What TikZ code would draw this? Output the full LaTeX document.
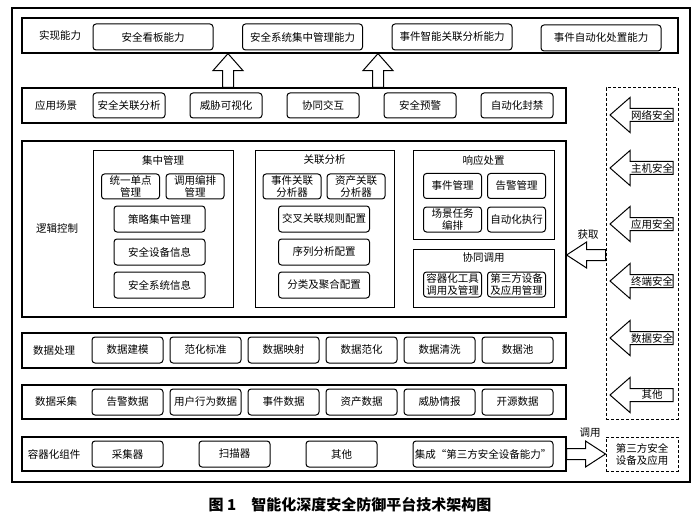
\documentclass[tikz,border=0pt]{standalone}
\usepackage{fontspec}
\setmainfont{Noto Sans CJK SC}
\usetikzlibrary{calc}

% left-pointing block arrow round a source label
\newcommand{\srcarrow}[1]{%
  \draw[blockarrow] ($(#1)+(21,-6.5)$) -- ($(#1)+(-22,-6.5)$) -- ++(0,-11)
    -- ($(#1)+(-42,0)$) -- ($(#1)+(-22,17.5)$) -- ++(0,-11)
    -- ($(#1)+(21,6.5)$) -- cycle;}

\begin{document}
\begin{tikzpicture}[x=1pt,y=-1pt,
    font=\fontsize{10.5}{12}\selectfont,
    blockarrow/.style={draw,line width=1pt,line join=miter},
    layer/.style={draw,line width=1.2pt,minimum height=35,inner sep=0},
    item/.style={draw,line width=1pt,rounded corners=3,minimum height=26,inner sep=1,align=center},
    group/.style={draw,line width=0.9pt,inner sep=0},
    dashbox/.style={draw,line width=1pt,dash pattern=on 3pt off 2pt,inner sep=0,align=center}]
  \useasboundingbox (0,0) rectangle (700,521);

  % frame and layers
  \node[draw,line width=1.5pt,minimum width=678,minimum height=474,inner sep=0] (frame) at (351,245) {};
  \node[layer,minimum width=656] (ability) at (350,35.5) {};
  \node[layer,minimum width=544] (scene) at (294,105.5) {};
  \node[layer,minimum width=544,minimum height=176] (logic) at (294,229) {};
  \node[layer,minimum width=544] (process) at (294,350.5) {};
  \node[layer,minimum width=544,minimum height=34] (collect) at (294,402) {};
  \node[layer,minimum width=544,minimum height=34] (container) at (294,454) {};
  \node[dashbox,minimum width=72,minimum height=331] (src) at (642,253.5) {};
  \node[dashbox,minimum width=72,minimum height=34] (third) at (642,454) {第三方安全\\设备及应用};

  % layer titles
  \node (abilityname) at (60,35.5) {实现能力};
  \node (scenename) at (56,105.5) {应用场景};
  \node (logicname) at (57,229) {逻辑控制};
  \node (processname) at (54,350.5) {数据处理};
  \node (collectname) at (56,402) {数据采集};
  \node (containername) at (54,454) {容器化组件};

  \begin{scope}[every node/.style={item,minimum width=120}]
    \node (a1) at (153,37) {安全看板能力};
    \node (a2) at (302.5,37) {安全系统集中管理能力};
    \node (a3) at (452,37) {事件智能关联分析能力};
    \node (a4) at (601,38) {事件自动化处置能力};
  \end{scope}

  \begin{scope}[every node/.style={item,minimum width=72,minimum height=25}]
    \node (b1) at (129,105.5) {安全关联分析};
    \node (b2) at (226,105.5) {威胁可视化};
    \node (b3) at (323,105.5) {协同交互};
    \node (b4) at (420,105.5) {安全预警};
    \node (b5) at (517,105.5) {自动化封禁};
  \end{scope}

  % logic control groups
  \node[group,minimum width=140,minimum height=157] (central) at (163,228.5) {};
  \node[group,minimum width=139,minimum height=157] (assoc) at (324.5,228.5) {};
  \node[group,minimum width=141,minimum height=89] (respond) at (483.5,194.5) {};
  \node[group,minimum width=141,minimum height=58] (coop) at (483.5,278) {};
  \node (centralname) at (163,160) {集中管理};
  \node (assocname) at (324.5,160) {关联分析};
  \node (respondname) at (483.5,161) {响应处置};
  \node (coopname) at (483.5,258) {协同调用};

  \begin{scope}[every node/.style={item,minimum width=58,minimum height=25,inner sep=0,font=\fontsize{10.5}{11.5}\selectfont}]
    \node (c1) at (130.5,186.5) {统一单点\\管理};
    \node (c2) at (195,186.5) {调用编排\\管理};
    \node (d1) at (292,186.5) {事件关联\\分析器};
    \node (d2) at (356,186.5) {资产关联\\分析器};
    \node (e1) at (452.5,186) {事件管理};
    \node (e2) at (516.5,186) {告警管理};
    \node (e3) at (452.5,219.5) {场景任务\\编排};
    \node (e4) at (516.5,219.5) {自动化执行};
    \node (f1) at (452.5,284.5) {容器化工具\\调用及管理};
    \node (f2) at (516.5,284.5) {第三方设备\\及应用管理};
  \end{scope}

  \begin{scope}[every node/.style={item,minimum width=91}]
    \node (c3) at (159.5,219) {策略集中管理};
    \node (c4) at (159.5,252) {安全设备信息};
    \node (c5) at (159.5,285) {安全系统信息};
    \node (d3) at (324,219) {交叉关联规则配置};
    \node (d4) at (324,252) {序列分析配置};
    \node (d5) at (324,285) {分类及聚合配置};
  \end{scope}

  \begin{scope}[every node/.style={item,minimum width=71}]
    \node (g1) at (127.5,350) {数据建模};
    \node (g2) at (205.5,350) {范化标准};
    \node (g3) at (283.5,350) {数据映射};
    \node (g4) at (361.5,350) {数据范化};
    \node (g5) at (439.5,350) {数据清洗};
    \node (g6) at (517.5,350) {数据池};
    \node (h1) at (127.5,402) {告警数据};
    \node (h2) at (205.5,402) {用户行为数据};
    \node (h3) at (283.5,402) {事件数据};
    \node (h4) at (361.5,402) {资产数据};
    \node (h5) at (439.5,402) {威胁情报};
    \node (h6) at (517.5,402) {开源数据};
    \node (k1) at (127.5,454) {采集器};
    \node (k2) at (234.5,454) {扫描器};
    \node (k3) at (341.5,454) {其他};
    \node[minimum width=140] (k4) at (483,454) {集成“第三方安全设备能力”};
  \end{scope}

  % sources on the right
  \node (s1) at (652,115) {网络安全};
  \node (s2) at (652,168) {主机安全};
  \node (s3) at (652,224) {应用安全};
  \node (s4) at (652,281) {终端安全};
  \node (s5) at (652,338) {数据安全};
  \node (s6) at (652,395) {其他};
  \srcarrow{s1}
  \srcarrow{s2}
  \srcarrow{s3}
  \srcarrow{s4}
  \srcarrow{s5}
  \srcarrow{s6}

  % up arrows scene -> ability
  \coordinate (u1) at (228,0);
  \coordinate (u2) at (378,0);
  \draw[blockarrow] (u1 |- ability.south) -- ++(15,17) -- ++(-9.5,0) -- ($(u1 |- scene.north)+(5.5,0)$)
    -- ++(-11,0) -- ($(u1 |- ability.south)+(-5.5,17)$) -- ++(-9.5,0) -- cycle;
  \draw[blockarrow] (u2 |- ability.south) -- ++(15,17) -- ++(-9.5,0) -- ($(u2 |- scene.north)+(5.5,0)$)
    -- ++(-11,0) -- ($(u2 |- ability.south)+(-5.5,17)$) -- ++(-9.5,0) -- cycle;

  % get arrow src -> logic
  \coordinate (gettip) at ($(logic.east)+(0,26)$);
  \draw[blockarrow] (gettip) -- ++(20,-13) -- ++(0,7.5) -- ($(gettip -| src.west)+(0,-5.5)$)
    -- ++(0,11) -- ($(gettip)+(20,5.5)$) -- ++(0,7.5) -- cycle;
  \node (getname) at (588,235) {获取};

  % call arrow container -> third
  \draw[blockarrow] ($(container.east)+(0,-5.5)$) -- ($(third.west)+(-20,-5.5)$) -- ++(0,-7.5)
    -- (third.west) -- ++(-20,13) -- ++(0,-7.5) -- ($(container.east)+(0,5.5)$) -- cycle;
  \node (callname) at (590,433) {调用};

  % caption
  \node[font=\fontsize{15}{18}\selectfont\bfseries] (caption) at (350,505) {图 1\quad 智能化深度安全防御平台技术架构图};
\end{tikzpicture}
\end{document}
